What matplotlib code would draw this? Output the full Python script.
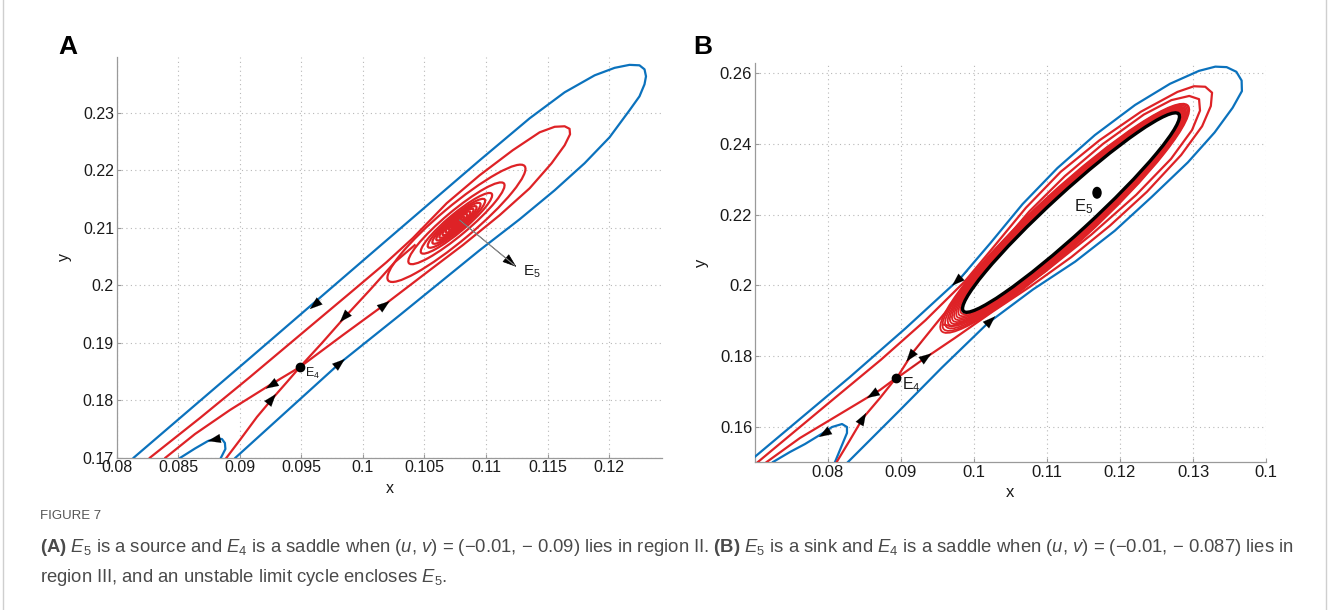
import matplotlib
matplotlib.use("Agg")
import matplotlib.pyplot as plt
from matplotlib.patches import Ellipse, Rectangle
from matplotlib.transforms import Affine2D

plt.rcParams['font.family'] = ['Liberation Sans', 'DejaVu Sans']
plt.rcParams['mathtext.fontset'] = 'custom'
plt.rcParams['mathtext.rm'] = 'Liberation Sans'
plt.rcParams['mathtext.it'] = 'Liberation Sans:italic'
plt.rcParams['mathtext.bf'] = 'Liberation Sans:bold'

BLUE = '#0b72bd'
RED = '#de2226'

# ---------------- panel A data ----------------
a_xlim = (0.08, 0.1243)
a_ylim = (0.17, 0.2398)
a_xticks = [0.08, 0.085, 0.09, 0.095, 0.1, 0.105, 0.11, 0.115, 0.12]
a_xlabels = ['0.08', '0.085', '0.09', '0.095', '0.1', '0.105', '0.11', '0.115', '0.12']
a_yticks = [0.17, 0.18, 0.19, 0.2, 0.21, 0.22, 0.23]
a_ylabels = ['0.17', '0.18', '0.19', '0.2', '0.21', '0.22', '0.23']

a_blue_x = [0.08138, 0.09082, 0.10137, 0.10543, 0.10949, 0.11355, 0.11639, 0.11883, 0.12045,
            0.12166, 0.12247, 0.12288, 0.123, 0.12288, 0.12247, 0.12166, 0.12004, 0.11801,
            0.11558, 0.11274, 0.10949, 0.103, 0.09813, 0.08965]
a_blue_y = [0.17, 0.18734, 0.20682, 0.2143, 0.22177, 0.22908, 0.2336, 0.23656, 0.23786,
            0.23838, 0.2383, 0.2376, 0.23638, 0.235, 0.2329, 0.23047, 0.22577, 0.22125,
            0.21655, 0.21151, 0.20612, 0.19482, 0.18647, 0.17]
a_hook_x = [0.08847, 0.08883, 0.08879, 0.08855, 0.08806, 0.08741, 0.08636, 0.08518]
a_hook_y = [0.17, 0.17151, 0.17256, 0.17325, 0.17334, 0.1729, 0.1716, 0.17]

a_big_x = [0.09488, 0.09837, 0.10192, 0.10543, 0.10811, 0.11111, 0.11355, 0.11533, 0.11639,
           0.11683, 0.11679, 0.11639, 0.11558, 0.11436, 0.11217, 0.10949, 0.10681, 0.10405,
           0.10192, 0.09894, 0.09488, 0.09082, 0.08676, 0.0827]
a_big_y = [0.18577, 0.19134, 0.1969, 0.20264, 0.20699, 0.21221, 0.2169, 0.22125, 0.22438,
           0.2263, 0.22725, 0.22769, 0.2276, 0.22664, 0.22351, 0.21917, 0.2143, 0.20821,
           0.20403, 0.19864, 0.19134, 0.18403, 0.1769, 0.17]
a_unst_x = [0.09488, 0.09244, 0.0892, 0.08636, 0.08396]
a_unst_y = [0.18577, 0.18264, 0.1783, 0.17412, 0.17]
a_stlow_x = [0.08892, 0.09001, 0.09139, 0.09269, 0.09383, 0.09488]
a_stlow_y = [0.17, 0.17308, 0.17708, 0.18039, 0.18317, 0.18577]
a_stup_x = [0.09488, 0.09667, 0.09853, 0.10056, 0.10259, 0.10421]
a_stup_y = [0.18577, 0.18995, 0.19447, 0.19917, 0.20403, 0.20699]

# spiral loops around E5 (semi axes in screen pixels)
a_e5 = (0.1076, 0.2108)
a_loop_a = [89, 62, 46, 37, 31, 26, 22, 18, 14, 10, 7, 4]
a_loop_b = [17, 12, 9, 7.5, 6.3, 5.3, 4.5, 3.7, 3.0, 2.2, 1.6, 1.0]
a_e4 = (0.09488, 0.18577)

# arrows: (tail x, tail y, tip x, tip y)
a_arrows = [(0.09666, 0.1976, 0.09569, 0.19586),
            (0.09894, 0.19551, 0.09813, 0.1936),
            (0.10121, 0.19569, 0.10218, 0.19725),
            (0.09756, 0.18543, 0.09853, 0.18717),
            (0.09326, 0.18351, 0.09212, 0.18203),
            (0.0922, 0.17917, 0.09293, 0.18108),
            (0.08839, 0.17334, 0.08741, 0.1729)]

# ---------------- panel B data ----------------
b_xlim = (0.07, 0.14)
b_ylim = (0.15, 0.2629)
b_xticks = [0.08, 0.09, 0.1, 0.11, 0.12, 0.13, 0.14]
b_xlabels = ['0.08', '0.09', '0.1', '0.11', '0.12', '0.13', '0.1']
b_yticks = [0.16, 0.18, 0.2, 0.22, 0.24, 0.26]
b_ylabels = ['0.16', '0.18', '0.2', '0.22', '0.24', '0.26']

b_blue_x = [0.07, 0.08301, 0.09064, 0.09821, 0.10225, 0.10665, 0.11142, 0.11656, 0.12207,
            0.12685, 0.13081, 0.13306, 0.13461, 0.13594, 0.13666, 0.1367, 0.13543, 0.13296,
            0.12929, 0.12434, 0.11929, 0.11387, 0.10808, 0.1019, 0.0956, 0.08982, 0.08274]
b_blue_y = [0.1515, 0.17406, 0.18786, 0.2022, 0.21195, 0.22297, 0.23316, 0.24251, 0.25103,
            0.25702, 0.26067, 0.26187, 0.26173, 0.26041, 0.25794, 0.25494, 0.25024, 0.24325,
            0.23477, 0.225, 0.21544, 0.20671, 0.19882, 0.1893, 0.17671, 0.16461, 0.15]
b_hook_x = [0.08096, 0.08192, 0.0826, 0.0826, 0.08192, 0.08055, 0.07932, 0.07685, 0.07479, 0.07247]
b_hook_y = [0.15, 0.15481, 0.1582, 0.1599, 0.16075, 0.1599, 0.1582, 0.15509, 0.15283, 0.15]

b_big_x = [0.08939, 0.09283, 0.09742, 0.10252, 0.10771, 0.11332, 0.11864, 0.12369, 0.12837,
           0.13125, 0.13244, 0.13261, 0.13168, 0.13013, 0.12787, 0.1229, 0.11721, 0.11188,
           0.10711, 0.10271, 0.09872, 0.09336, 0.08721, 0.08087, 0.0704]
b_big_y = [0.17369, 0.17875, 0.18515, 0.19251, 0.19965, 0.20796, 0.2169, 0.22646, 0.23686,
           0.24501, 0.25071, 0.2545, 0.25618, 0.25632, 0.25472, 0.24916, 0.24106, 0.23212,
           0.22193, 0.21091, 0.20105, 0.19012, 0.17886, 0.16801, 0.15]
b_second_x = [0.08939, 0.09172, 0.0952, 0.09919, 0.10308, 0.10757, 0.11244, 0.11767, 0.12327,
              0.12704, 0.12949, 0.13083, 0.13096, 0.12987, 0.12699, 0.12222, 0.11607, 0.10964,
              0.10394, 0.09967, 0.09691, 0.09576]
b_second_y = [0.17369, 0.18126, 0.19016, 0.20001, 0.21008, 0.22089, 0.23087, 0.24001, 0.24832,
              0.25239, 0.25358, 0.25266, 0.24944, 0.24393, 0.23578, 0.22559, 0.21433, 0.20369,
              0.19558, 0.19056, 0.1884, 0.18891]
b_unst_x = [0.08927, 0.08712, 0.08027, 0.07616, 0.0716]
b_unst_y = [0.17368, 0.17037, 0.16188, 0.15679, 0.15]
b_stlow_x = [0.08119, 0.08301, 0.08479, 0.08712, 0.08927]
b_stlow_y = [0.15, 0.15622, 0.16245, 0.1681, 0.17368]

# limit cycle (black) and red rings around it, screen pixels along the ring axis
b_ring_c = (0.11329, 0.22058)
b_ring_a = [148, 150, 152, 154, 156, 158, 160, 162.5, 165, 167]
b_ring_s = [-0.8, -1.6, -2.4, -3.2, -4, -4.8, -5.6, -6.6, -7.6, -8.5]
b_ring_b = [21, 21.7, 22.4, 23.1, 23.8, 24.5, 25.2, 25.9, 26.6, 27.3]
b_cycle_a, b_cycle_b = 146, 20
b_e4 = (0.08927, 0.17368)
b_e5 = (0.11685, 0.22618)

b_arrows = [(0.09922, 0.20411, 0.097, 0.19991),
            (0.10092, 0.18732, 0.1029, 0.19123),
            (0.09279, 0.18386, 0.09074, 0.17844),
            (0.09148, 0.17677, 0.09418, 0.18074),
            (0.08712, 0.17037, 0.08534, 0.1681),
            (0.08425, 0.16047, 0.08521, 0.16386),
            (0.08055, 0.15934, 0.07877, 0.15707)]

W, H = 1328, 610
fig = plt.figure(figsize=(W / 100, H / 100), dpi=100)

axA = fig.add_axes([116.7 / W, 1 - 457.7 / H, (662 - 116.7) / W, (457.7 - 56.7) / H])
axB = fig.add_axes([755 / W, 1 - 462 / H, (1266 - 755) / W, (462 - 63) / H])


def style_axes(ax, xlim, ylim, xt, xl, yt, yl, fs):
    ax.set_xlim(*xlim)
    ax.set_ylim(*ylim)
    ax.set_xticks(xt, xl)
    ax.set_yticks(yt, yl)
    ax.grid(True, color='#b8b8b8', linestyle=(0, (1, 3)), linewidth=0.8)
    ax.set_axisbelow(True)
    for s in ['top', 'right']:
        ax.spines[s].set_visible(False)
    for s in ['left', 'bottom']:
        ax.spines[s].set_color('#9a9a9a')
        ax.spines[s].set_linewidth(0.9)
    ax.tick_params(direction='in', length=3, color='#9a9a9a', labelsize=fs,
                   labelcolor='#1a1a1a', pad=2)
    ax.set_xlabel('x', fontsize=fs, color='#1a1a1a', labelpad=4)
    ax.set_ylabel('y', fontsize=fs, color='#1a1a1a', labelpad=8)


def pixel_transform(ax, center):
    # ellipses sized in screen pixels, centred on a data point
    pos = ax.get_position()
    x0, x1 = ax.get_xlim()
    y0, y1 = ax.get_ylim()
    kx = pos.width * W / (x1 - x0)
    ky = pos.height * H / (y1 - y0)
    return Affine2D().scale(1 / kx, 1 / ky).translate(*center) + ax.transData


def draw_arrows(ax, arrows):
    for tx, ty, hx, hy in arrows:
        ax.annotate('', xy=(hx, hy), xytext=(tx, ty),
                    arrowprops=dict(arrowstyle='-|>,head_length=0.9,head_width=0.32',
                                    color='k', lw=0.1, shrinkA=0, shrinkB=0), zorder=6)


lw = 1.6

# ---- panel A ----
style_axes(axA, a_xlim, a_ylim, a_xticks, a_xlabels, a_yticks, a_ylabels, 11.5)
axA.plot(a_blue_x, a_blue_y, color=BLUE, lw=lw, zorder=3)
axA.plot(a_hook_x, a_hook_y, color=BLUE, lw=lw, zorder=3)
for xs, ys in [(a_big_x, a_big_y), (a_unst_x, a_unst_y), (a_stlow_x, a_stlow_y), (a_stup_x, a_stup_y)]:
    axA.plot(xs, ys, color=RED, lw=lw, zorder=3)
tA = pixel_transform(axA, a_e5)
for aa, bb in zip(a_loop_a, a_loop_b):
    axA.add_patch(Ellipse((0, 0), 2 * aa, 2 * bb, angle=40, fill=False, edgecolor=RED,
                          lw=lw, transform=tA, zorder=3))
axA.plot(*a_e4, 'o', color='k', ms=6, zorder=7)
axA.text(0.09529, 0.1846, 'E$_4$', fontsize=9, va='center', color='#1a1a1a', zorder=7)
axA.annotate('', xy=(0.11247, 0.20322), xytext=(0.10787, 0.21134),
             arrowprops=dict(arrowstyle='-|>,head_length=0.9,head_width=0.32', color='k',
                             lw=0.5, shrinkA=0, shrinkB=0), zorder=6)
axA.plot([0.10787, 0.1123], [0.21134, 0.20352], color='#8a8a8a', lw=0.8, zorder=6)
axA.text(0.11299, 0.2023, 'E$_5$', fontsize=11, va='center', color='#1a1a1a')
draw_arrows(axA, a_arrows)

# ---- panel B ----
style_axes(axB, b_xlim, b_ylim, b_xticks, b_xlabels, b_yticks, b_ylabels, 12)
axB.plot(b_blue_x, b_blue_y, color=BLUE, lw=lw, zorder=3)
axB.plot(b_hook_x, b_hook_y, color=BLUE, lw=lw, zorder=3)
for xs, ys in [(b_big_x, b_big_y), (b_second_x, b_second_y), (b_unst_x, b_unst_y),
               (b_stlow_x, b_stlow_y)]:
    axB.plot(xs, ys, color=RED, lw=lw, zorder=3)
tB = pixel_transform(axB, b_ring_c)
ux, uy = 0.737, 0.676
for aa, ss, bb in zip(b_ring_a, b_ring_s, b_ring_b):
    axB.add_patch(Ellipse((ss * ux, ss * uy), 2 * aa, 2 * bb, angle=42.5, fill=False,
                          edgecolor=RED, lw=1.3, transform=tB, zorder=3))
axB.add_patch(Ellipse((0, 0), 2 * b_cycle_a, 2 * b_cycle_b, angle=42.5, fill=False,
                      edgecolor='k', lw=2.4, transform=tB, zorder=4))
axB.plot(*b_e4, 'o', color='k', ms=6, zorder=7)
axB.text(0.09014, 0.17178, 'E$_4$', fontsize=11.5, va='center', color='#1a1a1a', zorder=7)
axB.add_patch(Ellipse(b_e5, 0.0011, 0.0030, color='k', zorder=7))
axB.text(0.11507, 0.22214, 'E$_5$', fontsize=12, ha='center', va='center', color='#1a1a1a')
draw_arrows(axB, b_arrows)

# panel letters
fig.text(68 / W, 1 - 47 / H, 'A', fontsize=19, fontweight='bold', ha='center', va='center')
fig.text(703 / W, 1 - 47 / H, 'B', fontsize=19, fontweight='bold', ha='center', va='center')

# caption
cap = '#4a4a4a'
fig.text(40 / W, 1 - 516 / H, 'FIGURE 7', fontsize=9.5, color='#555555', va='center')
line1 = (r'$\bf{(A)}$ $E_5$ is a source and $E_4$ is a saddle when ($u$, $v$) = (' + '\u2212' +
         r'0.01, ' + '\u2212' + r' 0.09) lies in region II. $\bf{(B)}$ $E_5$ is a sink and $E_4$ '
         r'is a saddle when ($u$, $v$) = (' + '\u2212' + r'0.01, ' + '\u2212' + r' 0.087) lies in')
fig.text(40 / W, 1 - 548 / H, line1, fontsize=13.3, color=cap, va='center')
fig.text(40 / W, 1 - 577 / H, r'region III, and an unstable limit cycle encloses $E_5$.',
         fontsize=13.3, color=cap, va='center')

fig.patches.append(Rectangle((2.5 / W, -0.05), (W - 5) / W, 1.2, transform=fig.transFigure,
                             fill=False, edgecolor='#cfcfcf', lw=1))

fig.savefig('out.png', dpi=100)
